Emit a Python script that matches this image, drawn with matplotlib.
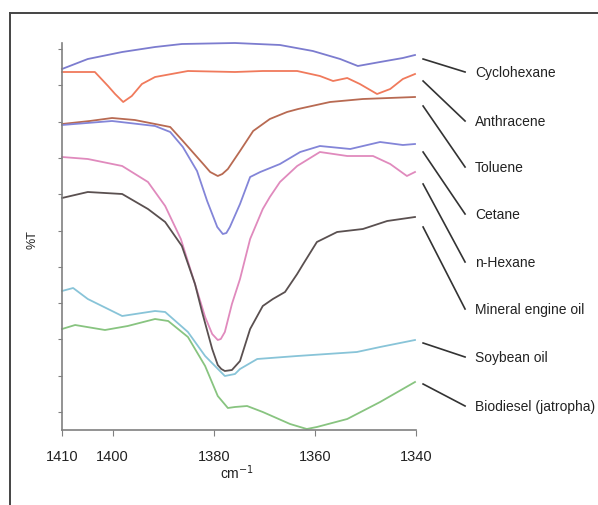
import numpy as np
import matplotlib
matplotlib.use('Agg')
from matplotlib import pyplot as plt
from matplotlib.lines import Line2D

plt.rcParams['font.family'] = ['Liberation Sans', 'DejaVu Sans']

# wavenumber (cm-1) / %T (arbitrary offset units)
cyclo_w = [1410, 1404.9, 1398.1, 1391.6, 1386.3, 1375.8, 1366.9, 1360.4, 1355.0, 1351.5, 1347.1, 1342.6, 1340.2]
cyclo_t = [361, 371, 378, 383, 386, 387, 385, 379, 371, 364, 368, 372, 375]

anth_w = [1410, 1403.5, 1400.9, 1399.5, 1397.9, 1396.2, 1394.2, 1391.6, 1385.1, 1375.8, 1370.3, 1363.5,
          1359.0, 1356.4, 1353.6, 1351.1, 1347.7, 1345.1, 1342.6, 1340.2]
anth_t = [358, 358, 344, 336, 328, 334, 346, 353, 359, 358, 359, 359, 354, 349, 352, 346, 336, 341, 351, 356]

tol_w = [1410, 1404.5, 1400.1, 1395.6, 1391.6, 1388.6, 1386.1, 1383.3, 1381.9, 1380.7, 1379.2, 1378.3,
         1377.2, 1374.8, 1372.2, 1368.9, 1365.5, 1363.3, 1357.0, 1350.5, 1340.2]
tol_t = [306, 309, 312, 310, 306, 303, 289, 273, 265, 258, 254, 256, 261, 279, 299, 311, 318, 321, 328, 331, 333]

cet_w = [1410, 1400.1, 1391.6, 1388.6, 1386.1, 1383.3, 1381.3, 1379.3, 1378.2, 1377.5, 1376.8, 1374.8,
         1372.8, 1370.8, 1366.9, 1362.9, 1359.0, 1353.0, 1347.1, 1342.6, 1340.2]
cet_t = [305, 309, 304, 298, 283, 259, 229, 203, 196, 197, 203, 226, 253, 258, 266, 278, 284, 281, 288, 285, 286]

hex_w = [1410, 1404.9, 1398.1, 1393.0, 1389.6, 1386.5, 1383.7, 1381.7, 1380.3, 1379.2, 1378.6, 1377.8,
         1376.4, 1374.8, 1372.8, 1370.3, 1368.9, 1366.9, 1363.5, 1359.0, 1353.6, 1348.5, 1345.1, 1341.8, 1340.2]
hex_t = [273, 271, 264, 248, 224, 191, 146, 113, 96, 90, 91, 98, 126, 151, 191, 221, 233, 248, 264, 278,
         274, 274, 266, 254, 258]

min_w = [1410, 1404.9, 1398.1, 1393.0, 1389.6, 1386.3, 1383.7, 1382.3, 1380.3, 1379.2, 1378.5, 1377.8,
         1376.4, 1374.8, 1372.8, 1370.3, 1368.3, 1365.9, 1363.5, 1362.3, 1359.6, 1355.6, 1350.5, 1345.7, 1340.2]
min_t = [232, 238, 236, 221, 208, 184, 146, 118, 81, 65, 61, 59, 60, 69, 101, 124, 131, 138, 156, 166,
         188, 198, 201, 209, 213]

soy_w = [1410, 1407.8, 1404.9, 1398.1, 1391.6, 1389.6, 1385.1, 1381.7, 1377.8, 1375.8, 1374.8, 1371.4,
         1363.5, 1351.7, 1347.1, 1340.2]
soy_t = [139, 142, 131, 114, 119, 118, 98, 74, 54, 56, 61, 71, 74, 78, 83, 90]

bio_w = [1410, 1407.4, 1401.5, 1397.0, 1391.6, 1389.0, 1385.1, 1381.7, 1379.2, 1377.2, 1375.8, 1373.4,
         1370.3, 1364.9, 1361.6, 1359.6, 1353.6, 1347.1, 1340.2]
bio_t = [101, 105, 100, 104, 111, 109, 93, 64, 34, 22, 23, 24, 18, 6, 1, 3, 11, 28, 48]

names = ['Cyclohexane', 'Anthracene', 'Toluene', 'Cetane', 'n-Hexane',
         'Mineral engine oil', 'Soybean oil', 'Biodiesel (jatropha)']
# leader line: start height near curve end, label height
lead_start = [371, 349, 324, 278, 246, 203, 87, 46]
label_t = [358, 309, 263, 216, 168, 121, 73, 24]

xticks = [1410, 1400, 1380, 1360, 1340]

series = [(cyclo_w, cyclo_t, '#7c7ccf'), (anth_w, anth_t, '#f07a5c'),
          (tol_w, tol_t, '#b86a52'), (cet_w, cet_t, '#8385d8'),
          (hex_w, hex_t, '#e08abd'), (min_w, min_t, '#5a5050'),
          (soy_w, soy_t, '#88c4d8'), (bio_w, bio_t, '#88c480')]

fig = plt.figure(figsize=(5.98, 5.06), dpi=100)
ax = fig.add_axes([62/598, 75/506, 354/598, 387/506])

for w, t, c in series:
    ax.plot(w, t, color=c, lw=1.3, clip_on=False, solid_joinstyle='round')

ax.set_xlim(1410, 1340)
ax.set_ylim(0, 387)
ax.set_xticks(xticks)
ax.set_yticks(np.arange(18, 388, 36.3))
ax.set_yticklabels([])
ax.tick_params(axis='x', direction='out', length=4, color='#808080', pad=10, labelsize=10.5, labelcolor='#222222')
ax.tick_params(axis='y', direction='out', length=3, color='#808080')
for s in ['top', 'right']:
    ax.spines[s].set_visible(False)
for s in ['left', 'bottom']:
    ax.spines[s].set_color('#808080')
    ax.spines[s].set_linewidth(1.2)

# leader lines and labels
x0, x1, xt = 1338.6, 1330.3, 1328.3
for n, a, b in zip(names, lead_start, label_t):
    ax.plot([x0, x1], [a, b], color='#333333', lw=1.2, clip_on=False)
    ax.text(xt, b, n, fontsize=10, va='center', ha='left', color='#222222')

fig.text(33/598, 1 - 240/506, '%T', rotation=90, fontsize=9, ha='center', va='center', color='#222222')
fig.text(237/598, 1 - 473/506, 'cm$^{-1}$', fontsize=10, ha='center', va='center', color='#222222')

# frame around the figure
fig.add_artist(Line2D([10/598, 1], [1 - 14/506, 1 - 14/506], color='#444444', lw=1.4))
fig.add_artist(Line2D([10/598, 10/598], [0, 1 - 14/506], color='#444444', lw=1.4))

fig.savefig('out.png', dpi=100)
